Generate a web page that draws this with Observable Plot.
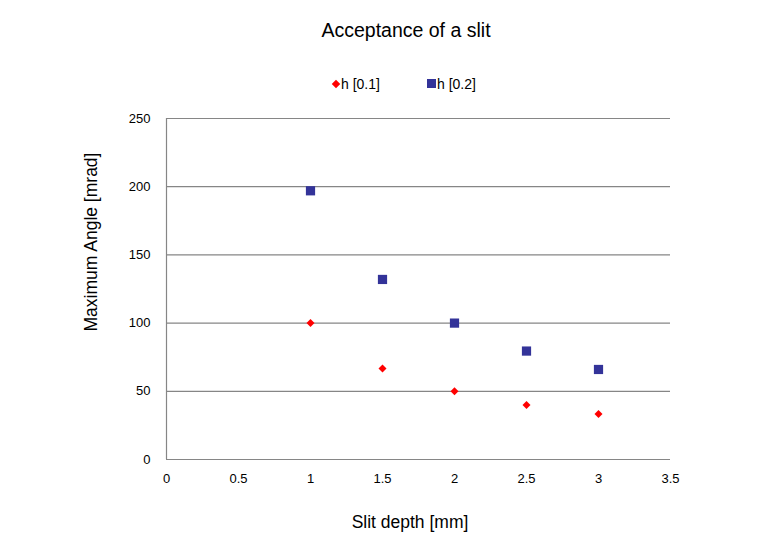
<!DOCTYPE html>
<html>
<head>
<meta charset="utf-8">
<script src="https://cdn.jsdelivr.net/npm/d3@7"></script>
<script src="https://cdn.jsdelivr.net/npm/@observablehq/plot@0.6"></script>
<style>
  body { margin: 0; background: #fff; font-family: "Liberation Sans", Arial, sans-serif; }
  #wrap { position: relative; width: 782px; height: 542px; }
  #title { position: absolute; top: 19px; left: 0; width: 812px; text-align: center; font-size: 19.5px; color: #000; }
  .leg { position: absolute; top: 76px; font-size: 14px; color: #000; display: flex; align-items: center; }
  #chart { position: absolute; top: 100px; left: 0; }
  #xlab { position: absolute; top: 511px; left: 310px; width: 200px; text-align: center; font-size: 17.5px; color: #000; line-height: 22px; }
  #ylab { position: absolute; left: -9px; top: 231px; width: 200px; height: 22px; line-height: 22px; text-align: center; font-size: 17.5px; color: #000; transform: rotate(-90deg); transform-origin: 100px 11px; }
</style>
</head>
<body>
<div id="wrap">
  <div id="title">Acceptance of a slit</div>
  <div class="leg" style="left:331px"><svg width="10" height="10"><rect x="2" y="2" width="6" height="6" fill="#ff0000" transform="rotate(45 5 5)"/></svg><span>h [0.1]</span></div>
  <div class="leg" style="left:426px"><svg width="11" height="10"><rect x="1" y="0" width="9" height="9" fill="#333399"/></svg><span>h [0.2]</span></div>
  <div id="chart"></div>
  <div id="xlab">Slit depth [mm]</div>
  <div id="ylab">Maximum Angle [mrad]</div>
</div>
<script>
const depth = [1, 1.5, 2, 2.5, 3];
const h01 = [100, 66.7, 50, 40, 33.3];
const h02 = [197, 132, 100, 79.5, 66];
const seriesNames = ["h [0.1]", "h [0.2]"];
const xTicks = [0, 0.5, 1, 1.5, 2, 2.5, 3, 3.5];
const yTicks = [0, 50, 100, 150, 200, 250];

const d1 = depth.map((d, i) => ({x: d, y: h01[i], s: seriesNames[0]}));
const d2 = depth.map((d, i) => ({x: d, y: h02[i], s: seriesNames[1]}));

const chart = Plot.plot({
  width: 782,
  height: 442,
  marginLeft: 166,
  marginRight: 112,
  marginTop: 18,
  marginBottom: 83,
  style: { fontFamily: "Liberation Sans, Arial, sans-serif", fontSize: "13px", color: "#000", background: "#fff" },
  x: { domain: [0, 3.5] },
  y: { domain: [0, 250] },
  marks: [
    Plot.ruleY(yTicks, { stroke: "#868686", strokeWidth: 1.2 }),
    Plot.ruleX([0], { stroke: "#868686", strokeWidth: 1.2 }),
    Plot.dot(d1, { x: "x", y: "y", symbol: "diamond2", fill: "#ff0000", r: 3.6 }),
    Plot.dot(d2, { x: "x", y: "y", symbol: "square", fill: "#333399", r: 5.2 }),
    Plot.axisX({ ticks: xTicks, tickSize: 0, tickPadding: 14, tickFormat: d => String(d), label: null, fontSize: 13 }),
    Plot.axisY({ ticks: yTicks, tickSize: 0, tickPadding: 16, label: null, fontSize: 13 })
  ]
});
document.getElementById("chart").appendChild(chart);
</script>
</body>
</html>
